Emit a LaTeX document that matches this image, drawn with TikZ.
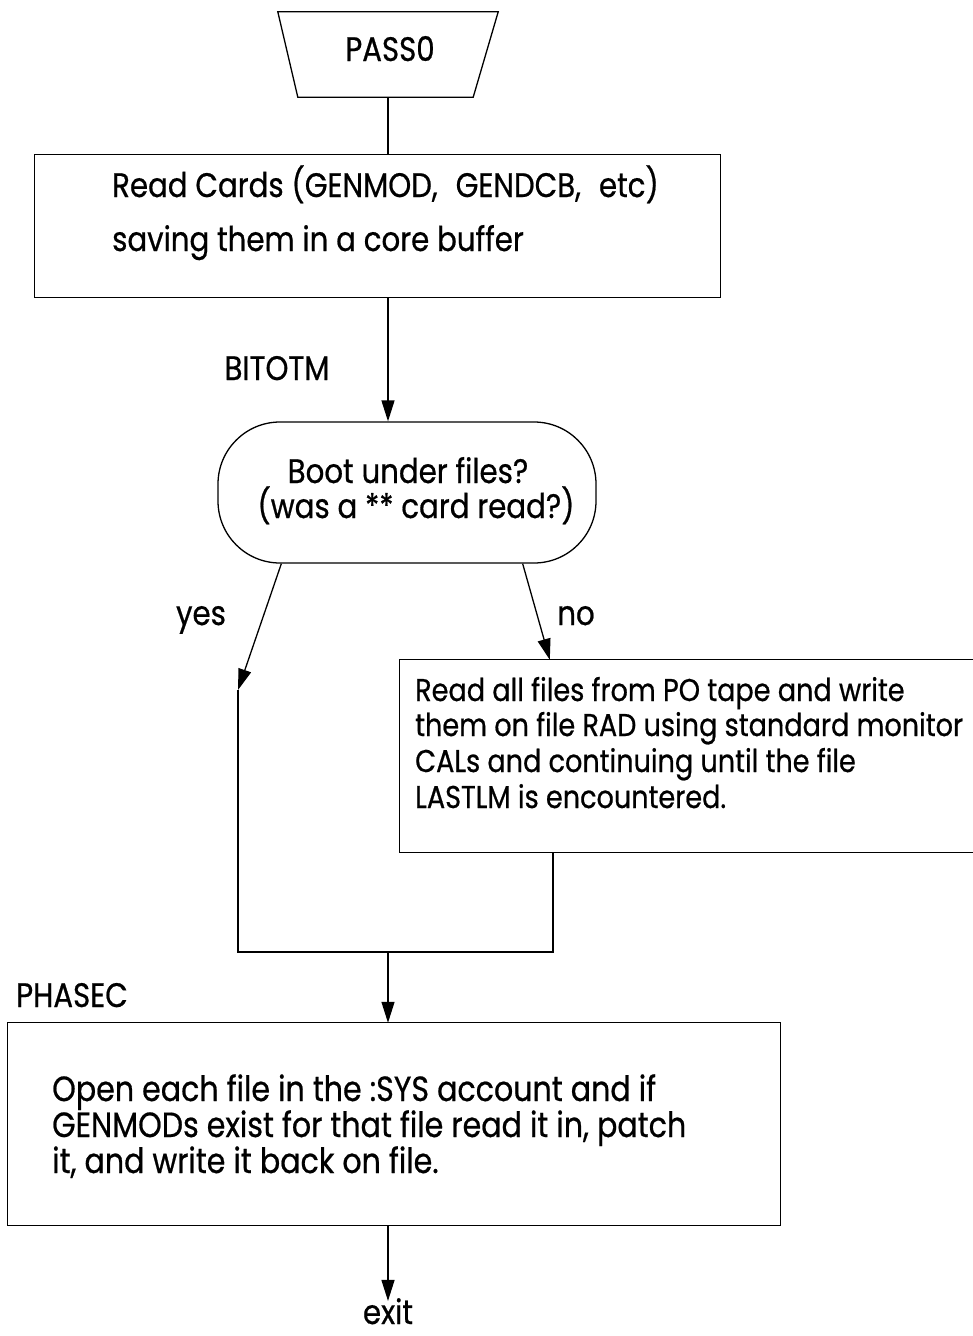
\documentclass[tikz,border=0pt]{standalone}
\usepackage{fontspec}
\setmainfont{Poppins}[FakeStretch=0.86,FakeBold=0.6,Ligatures=NoCommon]
\usetikzlibrary{arrows.meta,calc}
\begin{document}
\begin{tikzpicture}[x=1pt,y=-1pt,
  line/.style={draw=black,line width=1.3pt},
  arr/.style={line,-{Triangle[width=13pt,length=21pt]}},
  area/.style={inner sep=0pt,draw=none},
  txt/.style={font=\fontsize{34}{36}\selectfont,inner sep=0pt,anchor=base west},
  txtb/.style={txt,font=\fontsize{31.5}{36}\selectfont},
  txtc/.style={txt,font=\fontsize{35}{36}\selectfont},
  lbl/.style={font=\fontsize{34}{36}\selectfont,inner sep=0pt,anchor=base},
]
\useasboundingbox[fill=white] (0,0) rectangle (973,1336);

% shapes (invisible areas, outlines drawn from their anchors)
\node[area,minimum width=220pt,minimum height=85pt] (pass0) at (388,54.5) {};
\node[area,minimum width=685pt,minimum height=142pt] (box1) at (377.5,226) {};
\node[area,line,rounded corners=62pt,minimum width=378pt,minimum height=141pt] (dec) at (407,492.5) {};
\node[area,minimum width=590pt,minimum height=192pt] (box2) at (695,756) {};
\node[area,minimum width=772pt,minimum height=202pt] (box3) at (394,1124) {};

\draw[line] (pass0.north west) -- (pass0.north east) -- ($(pass0.south east)+(-25,0)$)
  -- ($(pass0.south west)+(20,0)$) -- cycle;
\draw[line] (box1.north west) rectangle (box1.south east);
\draw[line] (box2.north east) -- (box2.north west) -- (box2.south west) -- (box2.south east);
\draw[line] (box3.north west) rectangle (box3.south east);

% texts
\node[lbl] (tpass) at (390,61) {PASS0};
\node[txt] (t1a) at (112,197) {Read Cards (GENMOD,\hspace{0.3em} GENDCB,\hspace{0.3em} etc)};
\node[txt] (t1b) at (112,251) {saving them in a core buffer};
\node[lbl] (bitotm) at (277,380) {BITOTM};
\node[lbl] (d1) at (408,483) {Boot under files?};
\node[lbl] (d2) at (416,518) {(was a ** card read?)};
\node[lbl] (yes) at (201,625) {yes};
\node[lbl] (no) at (576,625) {no};
\node[txtb] (t2a) at (415,701) {Read all files from PO tape and write};
\node[txtb] (t2b) at (415,736) {them on file RAD using standard monitor};
\node[txtb] (t2c) at (415,772) {CALs and continuing until the file};
\node[txtb] (t2d) at (415,808) {LASTLM is encountered.};
\node[lbl] (phasec) at (72,1007) {PHASEC};
\node[txtc] (t3a) at (52,1101) {Open each file in the :SYS account and if};
\node[txtc] (t3b) at (52,1137) {GENMODs exist for that file read it in, patch};
\node[txtc] (t3c) at (52,1173) {it, and write it back on file.};
\node[lbl] (exit) at (388,1324) {exit};

% connectors
\coordinate (yesS) at ($(dec.south west)+(64,0)$);
\coordinate (yesT) at (238,690);
\coordinate (noS) at ($(dec.south east)+(-74,0)$);
\coordinate (noT) at ($(box2.north west)+(150,0)$);
\coordinate (m1) at (238,952);
\coordinate (m2) at (553,952);
\coordinate (mid) at (388,952);

\draw[line] (pass0.south) -- (pass0.south |- box1.north);
\draw[arr] (box1.south -| pass0.south) -- (dec.north -| pass0.south);
\draw[arr] (yesS) -- (yesT);
\draw[arr] (noS) -- (noT);
\draw[line] (yesT) -- (m1) -- (m2) -- (m2 |- box2.south);
\draw[arr] (mid) -- (mid |- box3.north);
\draw[arr] (box3.south -| mid) -- ($(exit.north)+(0,3)$);
\end{tikzpicture}
\end{document}
